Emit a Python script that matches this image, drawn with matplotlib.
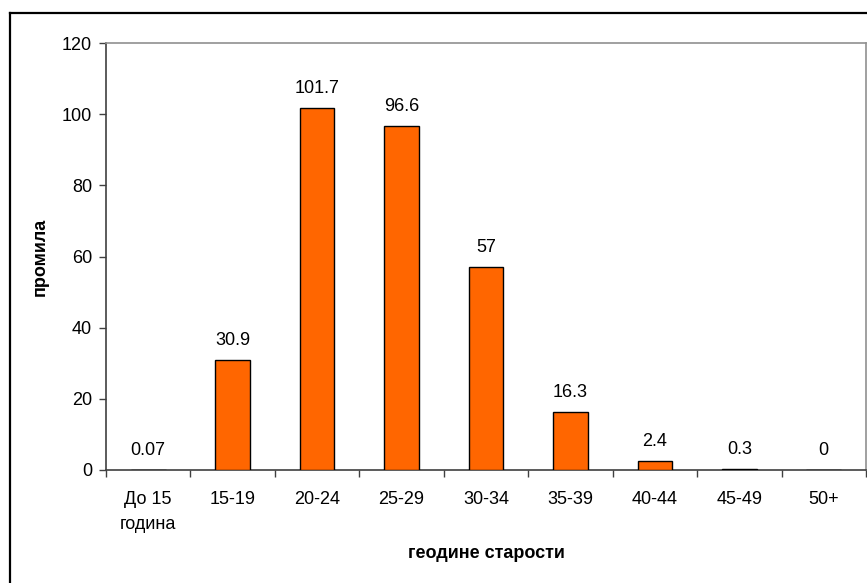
import matplotlib
matplotlib.use("Agg")
import matplotlib.pyplot as plt
from matplotlib.lines import Line2D

categories = ["До 15\nгодина", "15-19", "20-24", "25-29", "30-34", "35-39", "40-44", "45-49", "50+"]
values = [0.07, 30.9, 101.7, 96.6, 57, 16.3, 2.4, 0.3, 0]
value_labels = ["0.07", "30.9", "101.7", "96.6", "57", "16.3", "2.4", "0.3", "0"]
yticks = [0, 20, 40, 60, 80, 100, 120]

plt.rcParams['font.family'] = ['Liberation Sans', 'DejaVu Sans']

W, H = 867, 583
fig = plt.figure(figsize=(W / 100, H / 100), dpi=100)
ax = fig.add_axes([106 / W, (H - 470) / H, (866 - 106) / W, (470 - 43) / H])

x = list(range(len(categories)))
ax.bar(x, values, width=0.41, color="#FF6600", edgecolor="black", linewidth=1.0, zorder=3)

for xi, v, lab in zip(x, values, value_labels):
    ax.annotate(lab, (xi, v), xytext=(0, 8), textcoords="offset points",
                ha="center", va="bottom", fontsize=13, color="black")

ax.set_xlim(-0.5, len(categories) - 0.5)
ax.set_ylim(0, 120)
ax.set_yticks(yticks)
ax.set_yticklabels([str(t) for t in yticks], fontsize=13)
ax.tick_params(axis="y", length=5, width=1, color="#404040", pad=5)

ax.set_xticks([i - 0.5 for i in range(len(categories) + 1)])
ax.set_xticklabels([])
ax.tick_params(axis="x", which="major", length=5, width=1, color="#404040")
ax.set_xticks(x, minor=True)
ax.set_xticklabels(categories, minor=True, fontsize=13, linespacing=1.6)
ax.tick_params(axis="x", which="minor", length=0, pad=15)

for s in ["top", "right"]:
    ax.spines[s].set_color("#909090")
    ax.spines[s].set_linewidth(1.2)
for s in ["left", "bottom"]:
    ax.spines[s].set_color("#404040")
    ax.spines[s].set_linewidth(1.2)

ax.set_ylabel("промила", fontsize=13, fontweight="bold")
ax.yaxis.set_label_coords((49 - 106) / (866 - 106), 0.5)
ax.set_xlabel("геодине старости", fontsize=13, fontweight="bold")
ax.xaxis.set_label_coords(0.5, -(545 - 470) / (470 - 43))

# outer chart border
fig.add_artist(Line2D([10 / W, 10 / W], [0, 1 - 13 / H], transform=fig.transFigure,
                      color="black", linewidth=1.6))
fig.add_artist(Line2D([10 / W, 1], [1 - 13 / H, 1 - 13 / H], transform=fig.transFigure,
                      color="black", linewidth=1.6))

fig.savefig("out.png", dpi=100)
